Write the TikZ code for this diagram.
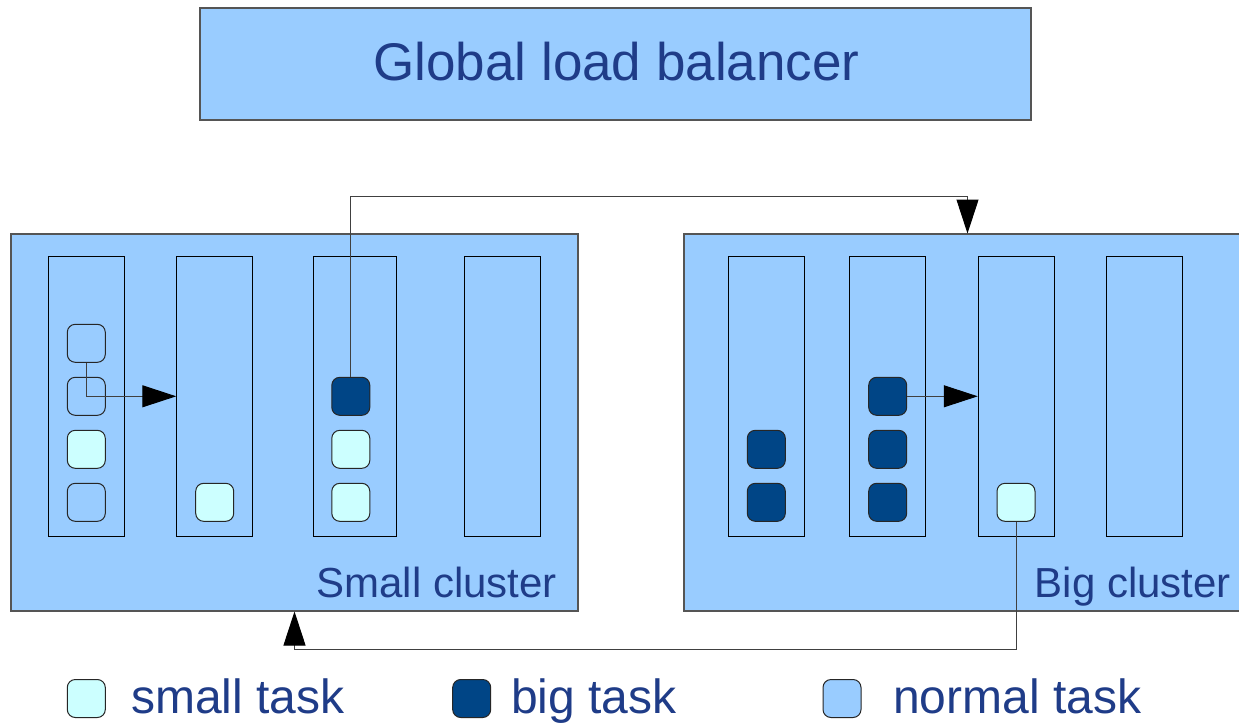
\documentclass[tikz,border=0pt]{standalone}
\usepackage{fontspec}
\setmainfont{Liberation Sans}
\usetikzlibrary{arrows.meta}
\definecolor{lblue}{HTML}{99CCFF}
\definecolor{sblue}{HTML}{CCFFFF}
\definecolor{dblue}{HTML}{004586}
\definecolor{txtblue}{HTML}{1F3C88}
\definecolor{edgegray}{HTML}{555555}
\tikzset{
  panel/.style={draw=edgegray, line width=1.2pt, fill=lblue, inner sep=0pt},
  colbox/.style={draw=black, line width=1.1pt, fill=lblue, inner sep=0pt, minimum width=76pt, minimum height=280pt},
  taskbox/.style={draw=black!85, line width=1pt, rounded corners=8pt, inner sep=0pt, minimum width=38pt, minimum height=38pt},
  smalltask/.style={taskbox, fill=sblue},
  bigtask/.style={taskbox, fill=dblue},
  normaltask/.style={taskbox, fill=lblue},
  lbl/.style={text=txtblue, inner sep=0pt, anchor=base},
  conn/.style={draw=black!75, line width=1pt},
  arr/.style={conn, -{Triangle[length=34pt,width=22pt,color=black,fill=black]}}
}
\begin{document}
\begin{tikzpicture}[x=1pt,y=-1pt]
\clip (0,0) rectangle (1239,725);
\fill[white] (0,0) rectangle (1239,725);
% global balancer
\node[panel, minimum width=831pt, minimum height=112pt] (glb) at (615.5,64) {};
\node[lbl, font=\fontsize{53}{60}\selectfont] (glbt) at (616.5,81) {Global load balancer};
% clusters
\node[panel, minimum width=567pt, minimum height=377pt] (sc) at (294.5,422.5) {};
\node[panel, minimum width=570pt, minimum height=377pt] (bc) at (969,422.5) {};
\node[lbl, font=\fontsize{42}{48}\selectfont, anchor=base east] (sct) at (557,597) {Small cluster};
\node[lbl, font=\fontsize{42}{48}\selectfont, anchor=base east] (bct) at (1231,597) {Big cluster};
% small cluster columns
\node[colbox] (s1) at (86.3,396.3) {};
\node[colbox] (s2) at (214.8,396.3) {};
\node[colbox, minimum width=83pt] (s3) at (354.7,396.3) {};
\node[colbox] (s4) at (502.2,396.3) {};
% big cluster columns
\node[colbox] (b1) at (766.8,396.3) {};
\node[colbox] (b2) at (887.5,396.3) {};
\node[colbox] (b3) at (1016.3,396.3) {};
\node[colbox] (b4) at (1144.6,396.3) {};
% small cluster tasks
\node[normaltask] (s1a) at (86.3,343.3) {};
\node[normaltask] (s1b) at (86.3,396.3) {};
\node[smalltask] (s1c) at (86.3,449.3) {};
\node[normaltask] (s1d) at (86.3,502.3) {};
\node[smalltask] (s2a) at (214.7,502.3) {};
\node[bigtask] (s3a) at (350.8,396.3) {};
\node[smalltask] (s3b) at (350.8,449.3) {};
\node[smalltask] (s3c) at (350.8,502.3) {};
% big cluster tasks
\node[bigtask] (b1a) at (766.3,449.3) {};
\node[bigtask] (b1b) at (766.3,502.3) {};
\node[bigtask] (b2a) at (887.7,396.3) {};
\node[bigtask] (b2b) at (887.7,449.3) {};
\node[bigtask] (b2c) at (887.7,502.3) {};
\node[smalltask] (b3a) at (1016,502.3) {};
% connectors
\coordinate (bin) at (967.5,233.5);
\coordinate (hi) at (0,196);
\coordinate (sin) at (294.5,611.5);
\coordinate (lo) at (0,649);
\draw[arr] (s1a.south) |- (s2.west);
\draw[arr] (b2a.east) -- (b3.west |- b2a.east);
\draw[arr] (s3a.north) |- (bin |- hi) -- (bin);
\draw[arr] (b3a.south) |- (sin |- lo) -- (sin);
% legend
\node[smalltask] (ls) at (86.3,698.5) {};
\node[lbl, font=\fontsize{48}{54}\selectfont, anchor=base west] (lst) at (131,713) {small task};
\node[bigtask] (lb) at (471.7,698.5) {};
\node[lbl, font=\fontsize{48}{54}\selectfont, anchor=base west] (lbt) at (511,713) {big task};
\node[normaltask] (ln) at (842,698.5) {};
\node[lbl, font=\fontsize{48}{54}\selectfont, anchor=base west] (lnt) at (893,713) {normal task};
\end{tikzpicture}
\end{document}
